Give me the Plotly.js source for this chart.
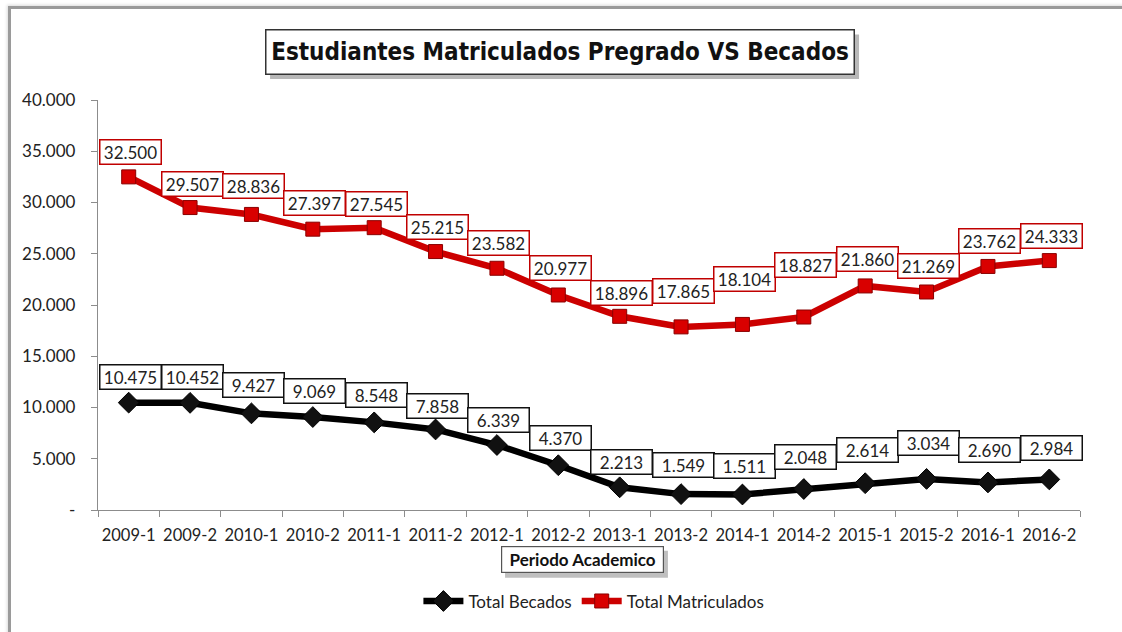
<!DOCTYPE html>
<html>
<head>
<meta charset="utf-8">
<script src="https://cdn.plot.ly/plotly-3.0.1.min.js"></script>
<style>
  html, body { margin: 0; padding: 0; background: #fff; overflow: hidden; }
  #wrap { position: relative; width: 1122px; height: 632px; overflow: hidden; }
  #chart { position: absolute; left: 0; top: 0; width: 1122px; height: 632px; }
  #frame { position: absolute; left: 8px; top: 6px; width: 1300px; height: 800px;
           border-left: 3px solid #9a9a9a; border-top: 3px solid #9a9a9a;
           box-shadow: -1px -1px 3px rgba(0,0,0,0.15); pointer-events: none; }
</style>
</head>
<body>
<div id="wrap">
  <div id="chart"></div>
  <div id="frame"></div>
</div>
<script>
const periods = ['2009-1','2009-2','2010-1','2010-2','2011-1','2011-2','2012-1','2012-2',
                 '2013-1','2013-2','2014-1','2014-2','2015-1','2015-2','2016-1','2016-2'];
const becados = [10475,10452,9427,9069,8548,7858,6339,4370,2213,1549,1511,2048,2614,3034,2690,2984];
const matriculados = [32500,29507,28836,27397,27545,25215,23582,20977,18896,17865,18104,18827,21860,21269,23762,24333];
const yTickVals = [0,5000,10000,15000,20000,25000,30000,35000,40000];
const yTickText = ['-','5.000','10.000','15.000','20.000','25.000','30.000','35.000','40.000'];

// label offsets (pixels above each point), a styling choice
const shiftRed = [25,24,28,26,24,25,25,27,23,36,45,52,27,26,25,25];
const shiftBlack = [26,26,28,26,27,23,25,27,25,29,29,32,33,36,32,31];

function fmt(v) { return String(v).replace(/\B(?=(\d{3})+(?!\d))/g, '.'); }

const FONT = 'Lato, "Open Sans", sans-serif';

const traces = [
  { x: periods, y: becados, type: 'scatter', mode: 'lines+markers', name: 'Total Becados',
    line: { color: '#000000', width: 6.5 },
    marker: { symbol: 'diamond', size: 16, color: '#111111', line: { color: '#000', width: 1 } } },
  { x: periods, y: matriculados, type: 'scatter', mode: 'lines+markers', name: 'Total Matriculados',
    line: { color: '#cc0000', width: 6.5 },
    marker: { symbol: 'square', size: 14, color: '#d90000', line: { color: '#8a0000', width: 1 } } }
];

const annotations = [];
periods.forEach((p, i) => {
  annotations.push({ x: p, y: matriculados[i], xref: 'x', yref: 'y', text: fmt(matriculados[i]),
    showarrow: false, xshift: 2, yshift: shiftRed[i], width: 56, height: 19, borderpad: 2,
    bgcolor: '#ffffff', bordercolor: '#c00000', borderwidth: 1.5,
    font: { family: FONT, size: 17, color: '#222' } });
  annotations.push({ x: p, y: becados[i], xref: 'x', yref: 'y', text: fmt(becados[i]),
    showarrow: false, xshift: 2, yshift: shiftBlack[i], width: 56, height: 19, borderpad: 2,
    bgcolor: '#ffffff', bordercolor: '#111111', borderwidth: 1.5,
    font: { family: FONT, size: 17, color: '#222' } });
});

annotations.push({ xref: 'paper', yref: 'paper', x: 0.4705, y: 1.1165, xanchor: 'center', yanchor: 'middle',
  text: '<b>Estudiantes Matriculados Pregrado VS Becados</b>', showarrow: false,
  width: 583, height: 39, borderpad: 2, bgcolor: '#ffffff', bordercolor: '#333', borderwidth: 1.5,
  font: { family: '"DejaVu Sans Condensed", sans-serif', size: 24, color: '#111' } });

annotations.push({ xref: 'paper', yref: 'paper', x: 0.4929, y: -0.1214, xanchor: 'center', yanchor: 'middle',
  text: '<b>Periodo Academico</b>', showarrow: false,
  width: 157, height: 21, borderpad: 2, bgcolor: '#ffffff', bordercolor: '#555', borderwidth: 1.2,
  font: { family: FONT, size: 17, color: '#111' } });

const shapes = [
  { type: 'rect', xref: 'paper', yref: 'paper', x0: 0.1752, x1: 0.7750, y0: 1.051, y1: 1.160,
    fillcolor: 'rgba(0,0,0,0.28)', line: { width: 0 }, layer: 'above' },
  { type: 'rect', xref: 'paper', yref: 'paper', x0: 0.4145, x1: 0.5804, y0: -0.165, y1: -0.0995,
    fillcolor: 'rgba(0,0,0,0.25)', line: { width: 0 }, layer: 'above' }
];

const layout = {
  width: 1122, height: 632,
  margin: { l: 98, r: 42, t: 100, b: 120 },
  paper_bgcolor: '#ffffff', plot_bgcolor: '#ffffff',
  font: { family: FONT, size: 17, color: '#222' },
  showlegend: true,
  legend: { orientation: 'h', x: 0.505, xanchor: 'center', y: -0.223, yanchor: 'middle',
            font: { family: FONT, size: 17, color: '#222' }, traceorder: 'normal', itemwidth: 40 },
  xaxis: { type: 'category', range: [-0.5, 15.5], showgrid: false, zeroline: false,
           showline: true, linecolor: '#8c8c8c', linewidth: 1.2, ticks: 'outside', tickson: 'boundaries',
           ticklen: 6, tickcolor: '#8c8c8c', ticklabelstandoff: 10, tickangle: 0,
           tickfont: { family: FONT, size: 16.5, color: '#222' } },
  yaxis: { range: [0, 40000], tickvals: yTickVals, ticktext: yTickText, showgrid: false, zeroline: false,
           showline: true, linecolor: '#8c8c8c', linewidth: 1.2, ticks: 'outside', ticklen: 6,
           tickcolor: '#8c8c8c', ticklabelstandoff: 12,
           tickfont: { family: FONT, size: 17, color: '#222' } },
  annotations: annotations,
  shapes: shapes
};

Plotly.newPlot('chart', traces, layout, { displayModeBar: false, staticPlot: true });
</script>
</body>
</html>
